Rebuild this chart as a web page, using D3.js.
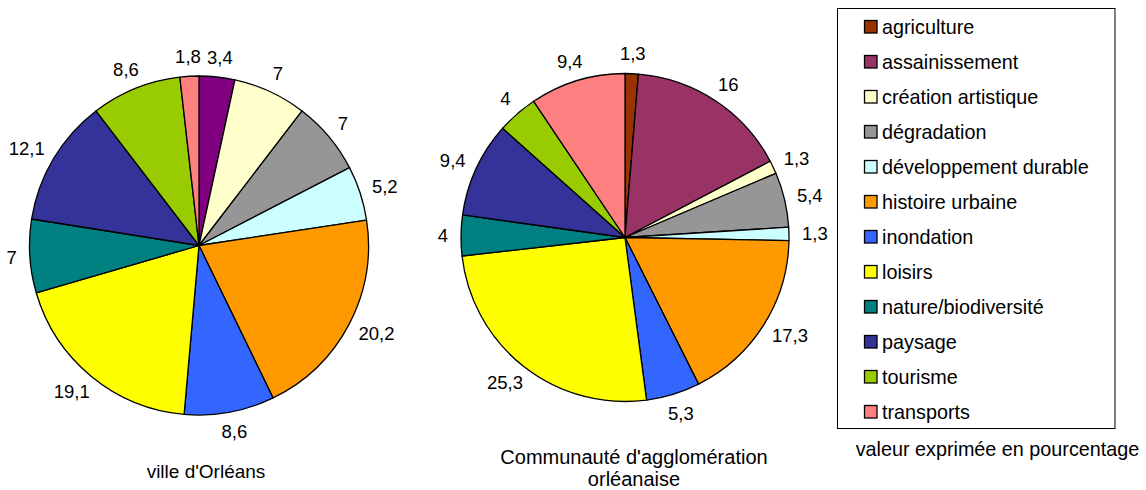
<!DOCTYPE html>
<html><head><meta charset="utf-8">
<script src="https://cdn.jsdelivr.net/npm/d3@7"></script>
<style>body{margin:0;background:#fff;} svg{display:block;font-family:Arial,"Liberation Sans",sans-serif;}</style>
</head><body>
<svg id="chart" width="1146" height="490"></svg>
<script>
const categories = ["agriculture","assainissement","création artistique","dégradation","développement durable","histoire urbaine","inondation","loisirs","nature/biodiversité","paysage","tourisme","transports"];
const villeValues = [0,3.4,7,7,5.2,20.2,8.6,19.1,7,12.1,8.6,1.8];
const agglomValues = [1.3,16,1.3,5.4,1.3,17.3,5.3,25.3,4,9.4,4,9.4];
const legendColors = ["#993300","#993366","#FFFFCC","#969696","#CCFFFF","#FF9900","#3366FF","#FFFF00","#008080","#333399","#99CC00","#FF8080"];
const villeColors = ["#993300","#800080","#FFFFCC","#969696","#CCFFFF","#FF9900","#3366FF","#FFFF00","#008080","#333399","#99CC00","#FF8080"];
const villeTitle = ["ville d'Orléans"];
const agglomTitle = ["Communauté d'agglomération","orléanaise"];
const legendNote = "valeur exprimée en pourcentage";

const svg = d3.select("#chart");
const fmt = v => String(v).replace(".", ",");

function drawPie(values, colors, cx, cy, r, titleLines, titleX, titleY, titleSize) {
  const g = svg.append("g").attr("transform", `translate(${cx},${cy})`);
  const data = values.map((v,i)=>({v, i, c: colors[i]}));
  const pie = d3.pie().value(d=>d.v).sort(null).startAngle(0).endAngle(2*Math.PI);
  const arcs = pie(data).filter(a => a.data.v > 0);
  const arc = d3.arc().innerRadius(0).outerRadius(r);
  g.selectAll("path").data(arcs).join("path")
    .attr("d", arc).attr("fill", d=>d.data.c)
    .attr("stroke", "#000").attr("stroke-width", 1.3).attr("stroke-linejoin","round");
  const gap = 13, fs = 18.5;
  const lbl = g.selectAll("text.lbl").data(arcs).join("text").attr("class","lbl")
    .attr("font-size", fs).attr("text-anchor","middle").attr("fill","#000")
    .text(d=>fmt(d.data.v));
  lbl.each(function(d){
    const a = (d.startAngle + d.endAngle)/2;
    const sx = Math.sin(a), sy = -Math.cos(a);
    const w = this.getComputedTextLength();
    const hh = 7;
    const x = sx*(r+gap) + sx*w/2;
    const y = sy*(r+gap) + sy*hh;
    d3.select(this).attr("x", x).attr("y", y + 6.5);
  });
  const t = svg.append("text").attr("font-size", titleSize).attr("text-anchor","middle").attr("fill","#000");
  titleLines.forEach((line, k) => {
    t.append("tspan").attr("x", titleX).attr("y", titleY + k*22).text(line);
  });
}

drawPie(villeValues, villeColors, 199, 245.5, 169.5, villeTitle, 206, 478, 19);
drawPie(agglomValues, legendColors, 625, 237.5, 164, agglomTitle, 634, 464, 20);

// Legend
const lg = svg.append("g");
lg.append("rect").attr("x", 837.5).attr("y", 8.5).attr("width", 277.5).attr("height", 420)
  .attr("fill", "#fff").attr("stroke", "#000").attr("stroke-width", 1);
const ly = d3.scalePoint().domain(categories).range([27, 412]);
const items = lg.selectAll("g.item").data(categories).join("g").attr("class","item")
  .attr("transform", d=>`translate(0,${ly(d)})`);
items.append("rect").attr("x", 864.5).attr("y", -6.5).attr("width", 12.5).attr("height", 12.5)
  .attr("fill", (d,i)=>legendColors[i]).attr("stroke","#000").attr("stroke-width",1.3);
items.append("text").attr("x", 882).attr("y", 6.5).attr("font-size", 19.8).attr("fill","#000").text(d=>d);
svg.append("text").attr("x", 997.5).attr("y", 456).attr("font-size", 19.8).attr("text-anchor","middle").attr("fill","#000").text(legendNote);
</script>
</body></html>
